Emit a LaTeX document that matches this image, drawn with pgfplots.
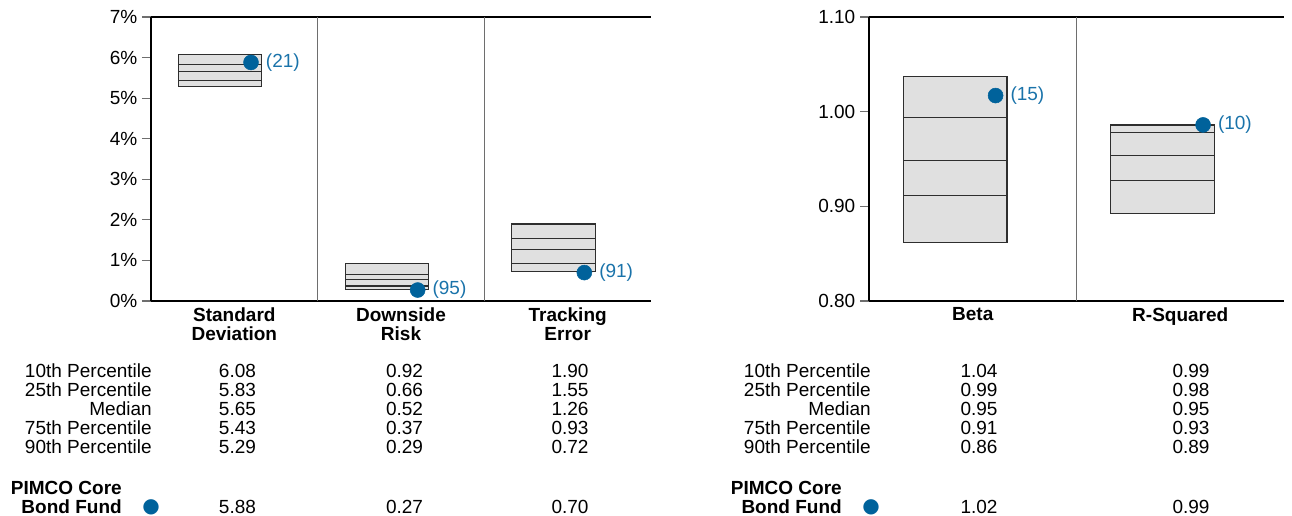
\documentclass[border=0pt]{standalone}
\usepackage{fontspec}
\setmainfont{Liberation Sans}
\newfontfamily\dejavu{DejaVu Sans}
\usepackage{pgfplots}
\pgfplotsset{compat=1.18}
\definecolor{fundblue}{HTML}{00629B}
\definecolor{lblblue}{HTML}{1A73AA}
\definecolor{boxfill}{HTML}{E0E0E0}
\definecolor{boxline}{HTML}{2E2E2E}
\definecolor{divgray}{HTML}{6E6E6E}
\newcommand\fs{\fontsize{14.25pt}{14.25pt}\selectfont}

\pgfplotsset{
  riskaxis/.style={
    scale only axis, anchor=south west, height=213pt,
    axis x line=box, axis y line=left,
    axis line style={-, black, line width=0.8pt},
    tick align=outside, major tick length=6.75pt,
    ytick style={divgray, line width=0.8pt},
    xtick style={draw=none},
    extra x tick style={grid=major, major grid style={divgray, line width=0.8pt}, xticklabels={}},
    tick label style={font=\fs},
    xticklabel style={font=\fs\bfseries, align=center, inner sep=0pt, yshift=2.25pt},
    /pgf/number format/assume math mode=true,
    clip=false,
    unbounded coords=jump,
  },
  boxarea/.style={fill=boxfill, draw=boxline, line width=0.9pt},
  boxlines/.style={boxline, line width=0.8pt},
  fund/.style={only marks, mark=*, mark size=5.6pt, color=fundblue,
    point meta=explicit symbolic, nodes near coords,
    nodes near coords style={anchor=west, inner sep=0pt, xshift=11pt, font=\fs, text=lblblue}},
}

\begin{document}
\begin{tikzpicture}
\path[use as bounding box] (0,0) rectangle (969pt,387pt);

% ---------------- left axis ----------------
\begin{axis}[riskaxis, at={(113.25pt,161.25pt)}, width=375pt,
  xmin=0, xmax=3, ymin=0, ymax=7,
  ytick={0,1,...,7},
  yticklabel={\pgfmathprintnumber{\tick}\%},
  xtick={0.5,1.5,2.5},
  xticklabels={Standard\\Deviation, Downside\\Risk, Tracking\\Error},
  extra x ticks={1,2}]
% Standard Deviation
\addplot[boxarea] coordinates {(0.165,5.29)(0.665,5.29)(0.665,6.08)(0.165,6.08)} -- cycle;
\addplot[boxlines] coordinates {(0.165,5.83)(0.665,5.83)(0.165,nan)(0.165,5.65)(0.665,5.65)(0.165,nan)(0.165,5.43)(0.665,5.43)};
% Downside Risk
\addplot[boxarea] coordinates {(1.165,0.29)(1.665,0.29)(1.665,0.92)(1.165,0.92)} -- cycle;
\addplot[boxlines] coordinates {(1.165,0.66)(1.665,0.66)(1.165,nan)(1.165,0.52)(1.665,0.52)(1.165,nan)(1.165,0.37)(1.665,0.37)};
% Tracking Error
\addplot[boxarea] coordinates {(2.165,0.72)(2.665,0.72)(2.665,1.90)(2.165,1.90)} -- cycle;
\addplot[boxlines] coordinates {(2.165,1.55)(2.665,1.55)(2.165,nan)(2.165,1.26)(2.665,1.26)(2.165,nan)(2.165,0.93)(2.665,0.93)};
% fund
\addplot[fund] coordinates {(0.6,5.88) [(21)] (1.6,0.27) [(95)] (2.6,0.70) [(91)]};
\end{axis}

% ---------------- right axis ----------------
\begin{axis}[riskaxis, at={(651.75pt,161.25pt)}, width=311.25pt,
  xmin=0, xmax=2, ymin=0.8, ymax=1.1,
  ytick={0.8,0.9,1.0,1.1},
  yticklabel style={/pgf/number format/.cd, fixed, fixed zerofill, precision=2},
  xtick={0.5,1.5},
  xticklabels={Beta, R-Squared},
  extra x ticks={1}]
% Beta
\addplot[boxarea] coordinates {(0.165,0.862)(0.665,0.862)(0.665,1.037)(0.165,1.037)} -- cycle;
\addplot[boxlines] coordinates {(0.165,0.994)(0.665,0.994)(0.165,nan)(0.165,0.948)(0.665,0.948)(0.165,nan)(0.165,0.911)(0.665,0.911)};
% R-Squared
\addplot[boxarea] coordinates {(1.165,0.892)(1.665,0.892)(1.665,0.986)(1.165,0.986)} -- cycle;
\addplot[boxlines] coordinates {(1.165,0.978)(1.665,0.978)(1.165,nan)(1.165,0.954)(1.665,0.954)(1.165,nan)(1.165,0.9275)(1.665,0.9275)};
% fund
\addplot[fund] coordinates {(0.61,1.017) [(15)] (1.61,0.986) [(10)]};
\end{axis}

% ---------------- tables ----------------
\begin{scope}[every node/.style={font=\fs, inner sep=0pt}]
% left table
\foreach \lab/\y in {10th Percentile/103.65, 25th Percentile/89.4, Median/75.15, 75th Percentile/60.9, 90th Percentile/46.65}
  \node[anchor=base east] at (114pt,\y pt) {\lab};
\foreach \a/\b/\c/\y in {6.08/0.92/1.90/103.65, 5.83/0.66/1.55/89.4, 5.65/0.52/1.26/75.15, 5.43/0.37/0.93/60.9, 5.29/0.29/0.72/46.65, 5.88/0.27/0.70/1.65}{
  \node[anchor=base] at (178.1pt,\y pt) {\a};
  \node[anchor=base] at (303.4pt,\y pt) {\b};
  \node[anchor=base] at (427.5pt,\y pt) {\c};
}
\node[anchor=base east, font=\fs\bfseries] at (91.5pt,15.9pt) {PIMCO Core};
\node[anchor=base east, font=\fs\bfseries] at (91.5pt,1.65pt) {Bond Fund};
\node[anchor=center, text=fundblue, font=\dejavu\fontsize{15pt}{15pt}\selectfont] at (113.25pt,6.5pt) {●};
% right table
\foreach \lab/\y in {10th Percentile/103.65, 25th Percentile/89.4, Median/75.15, 75th Percentile/60.9, 90th Percentile/46.65}
  \node[anchor=base east] at (653.25pt,\y pt) {\lab};
\foreach \a/\b/\y in {1.04/0.99/103.65, 0.99/0.98/89.4, 0.95/0.95/75.15, 0.91/0.93/60.9, 0.86/0.89/46.65, 1.02/0.99/1.65}{
  \node[anchor=base] at (734.25pt,\y pt) {\a};
  \node[anchor=base] at (893.25pt,\y pt) {\b};
}
\node[anchor=base east, font=\fs\bfseries] at (631.5pt,15.9pt) {PIMCO Core};
\node[anchor=base east, font=\fs\bfseries] at (631.5pt,1.65pt) {Bond Fund};
\node[anchor=center, text=fundblue, font=\dejavu\fontsize{15pt}{15pt}\selectfont] at (653.25pt,6.5pt) {●};
\end{scope}
\end{tikzpicture}
\end{document}
